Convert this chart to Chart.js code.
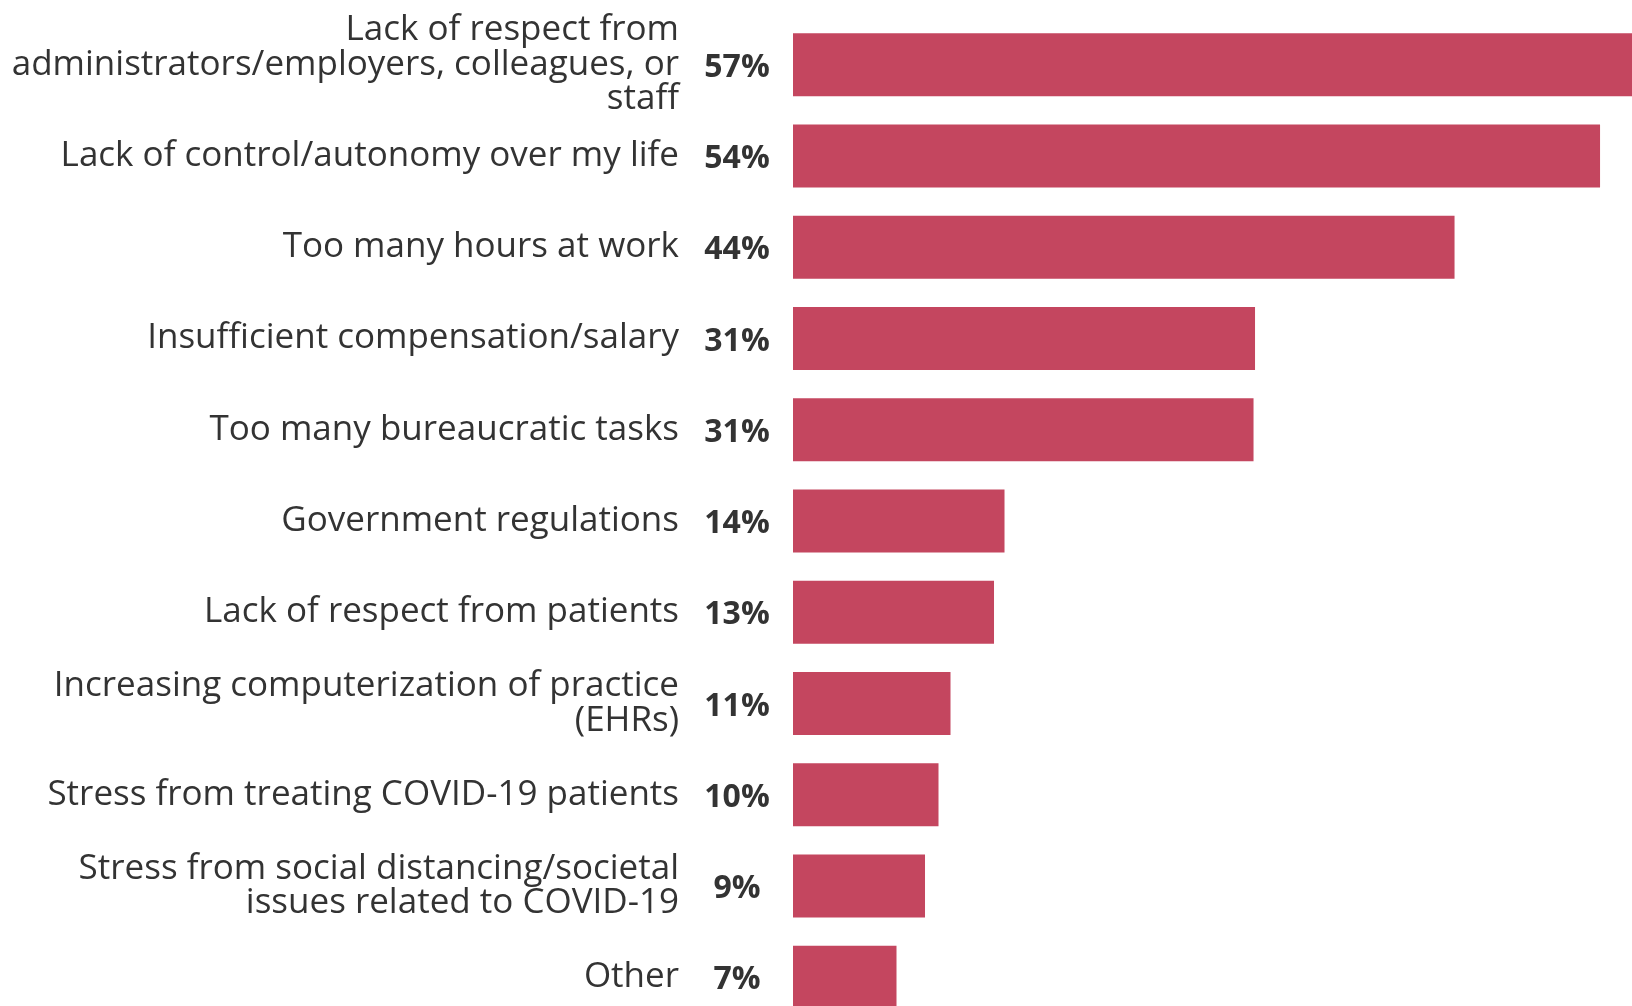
<!DOCTYPE html>
<html>
<head>
<meta charset="utf-8">
<script src="https://cdn.jsdelivr.net/npm/chart.js@4/dist/chart.umd.min.js"></script>
<style>
  html, body { margin: 0; padding: 0; background: #fff; overflow: hidden; }
  #wrap { width: 1632px; height: 1030px; }
</style>
</head>
<body>
<div id="wrap"><canvas id="reasons"></canvas></div>
<script>
// categories (multi-line ones split as in the picture)
const categories = [
  ['Lack of respect from', 'administrators/employers, colleagues, or', 'staff'],
  'Lack of control/autonomy over my life',
  'Too many hours at work',
  'Insufficient compensation/salary',
  'Too many bureaucratic tasks',
  'Government regulations',
  'Lack of respect from patients',
  ['Increasing computerization of practice', '(EHRs)'],
  'Stress from treating COVID-19 patients',
  ['Stress from social distancing/societal', 'issues related to COVID-19'],
  'Other'
];
// bar lengths
const values = [57, 53.8, 44.1, 30.8, 30.7, 14.1, 13.4, 10.5, 9.7, 8.8, 6.9];
// printed labels
const valueLabels = ['57%', '54%', '44%', '31%', '31%', '14%', '13%', '11%', '10%', '9%', '7%'];

const barColor = '#c4465f';
const textColor = '#333333';

// draws the bold percentage next to each category
const pctLabels = {
  id: 'pctLabels',
  afterDraw(chart) {
    const ctx = chart.ctx;
    const y = chart.scales.y;
    ctx.save();
    ctx.font = 'bold 32px "Open Sans"';
    ctx.fillStyle = textColor;
    ctx.textAlign = 'center';
    ctx.textBaseline = 'middle';
    valueLabels.forEach((t, i) => {
      ctx.fillText(t, 737, y.getPixelForValue(i) + 3);
    });
    ctx.restore();
  }
};

new Chart(document.getElementById('reasons'), {
  type: 'bar',
  data: {
    labels: categories,
    datasets: [{
      data: values,
      backgroundColor: barColor,
      borderWidth: 0,
      barPercentage: 0.69,
      categoryPercentage: 1
    }]
  },
  options: {
    indexAxis: 'y',
    responsive: true,
    maintainAspectRatio: false,
    animation: false,
    layout: { padding: { top: 19, bottom: 7, left: 0, right: 0 } },
    plugins: { legend: { display: false }, tooltip: { enabled: false } },
    scales: {
      x: {
        display: false,
        min: 0,
        max: 55.93
      },
      y: {
        afterFit(scale) {
          scale.width = 793;
          scale.paddingTop = 0;
          scale.paddingBottom = 0;
        },
        grid: { display: false, drawTicks: false },
        border: { display: false },
        ticks: {
          autoSkip: false,
          padding: 114,
          color: textColor,
          font: { family: 'Open Sans', size: 35, lineHeight: 0.99 }
        }
      }
    }
  },
  plugins: [pctLabels]
});
</script>
</body>
</html>
